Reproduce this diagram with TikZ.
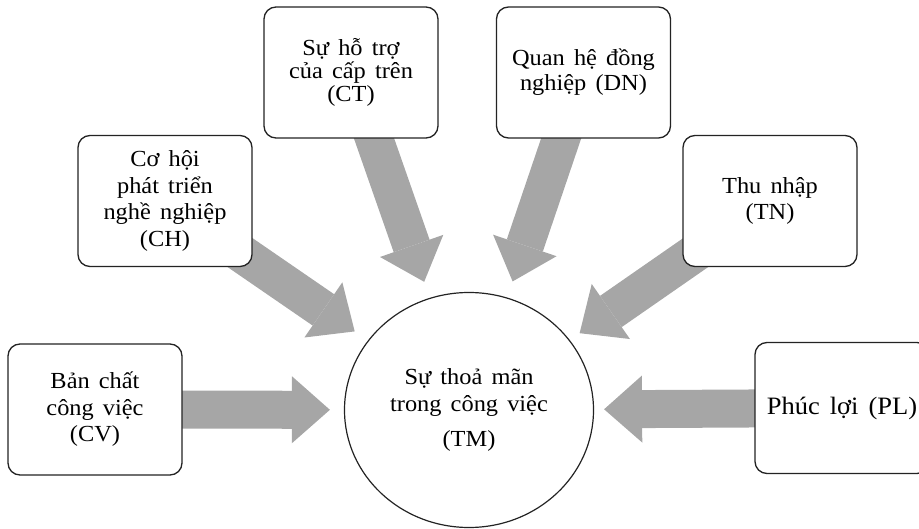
\documentclass[tikz,border=0pt]{standalone}
\usepackage{fontspec}
\setmainfont{Liberation Serif}[FakeStretch=1.06,WordSpace=1.5]
\usetikzlibrary{shapes.geometric,arrows.meta,backgrounds}
\definecolor{arrowgray}{RGB}{166,166,166}
\definecolor{edgeblack}{RGB}{35,35,35}
\tikzset{
  factor/.style={draw=edgeblack, line width=1.3pt, rounded corners=12pt,
    fill=white, minimum width=174pt, minimum height=131pt, align=center,
    inner sep=0pt, font=\fontsize{23}{26.5}\selectfont},
  core/.style={ellipse, draw=edgeblack, line width=1.2pt, fill=white,
    minimum width=249pt, minimum height=235pt, inner sep=0pt, align=center,
    font=\fontsize{23}{27}\selectfont},
  blockarrow/.style={draw=arrowgray, line width=38pt,
    -{Triangle[width=67pt,length=38pt,line width=0pt]}}
}
\begin{document}
\begin{tikzpicture}[x=1pt,y=-1pt]
\useasboundingbox (0,0) rectangle (919,529);

% central factor
\node[core] (TM) at (469,410) {Sự thoả mãn\\trong công việc\\[8pt](TM)};

% influencing factors
\node[factor] (CV) at (95,409.5) {Bản chất\\công việc\\(CV)};
\node[factor] (CH) at (165,201) {Cơ hội\\phát triển\\nghề nghiệp\\(CH)};
\node[factor, font=\fontsize{23}{23}\selectfont] (CT) at (351,72.5) {Sự hỗ trợ\\của cấp trên\\(CT)};
\node[factor, font=\fontsize{23}{25}\selectfont] (DN) at (583.5,72.5) {Quan hệ đồng\\nghiệp (DN)};
\node[factor] (TN) at (770,201) {Thu nhập\\(TN)};
\node[factor, font=\fontsize{25}{28}\selectfont] (PL) at (842,408) {Phúc lợi (PL)};

% block arrows pointing into the central factor
\begin{scope}[on background layer]
  \draw[blockarrow, shorten >=14pt] (CV.center) -- (TM);
  \draw[blockarrow, shorten >=16pt] (CH.center) -- (TM);
  \draw[blockarrow, shorten >=17pt] (CT.center) -- (TM);
  \draw[blockarrow, shorten >=17pt] (DN.center) -- (TM);
  \draw[blockarrow, shorten >=12pt] (TN.center) -- (TM);
  \draw[blockarrow, shorten >=10pt] (PL.center) -- (TM);
\end{scope}
\end{tikzpicture}
\end{document}
